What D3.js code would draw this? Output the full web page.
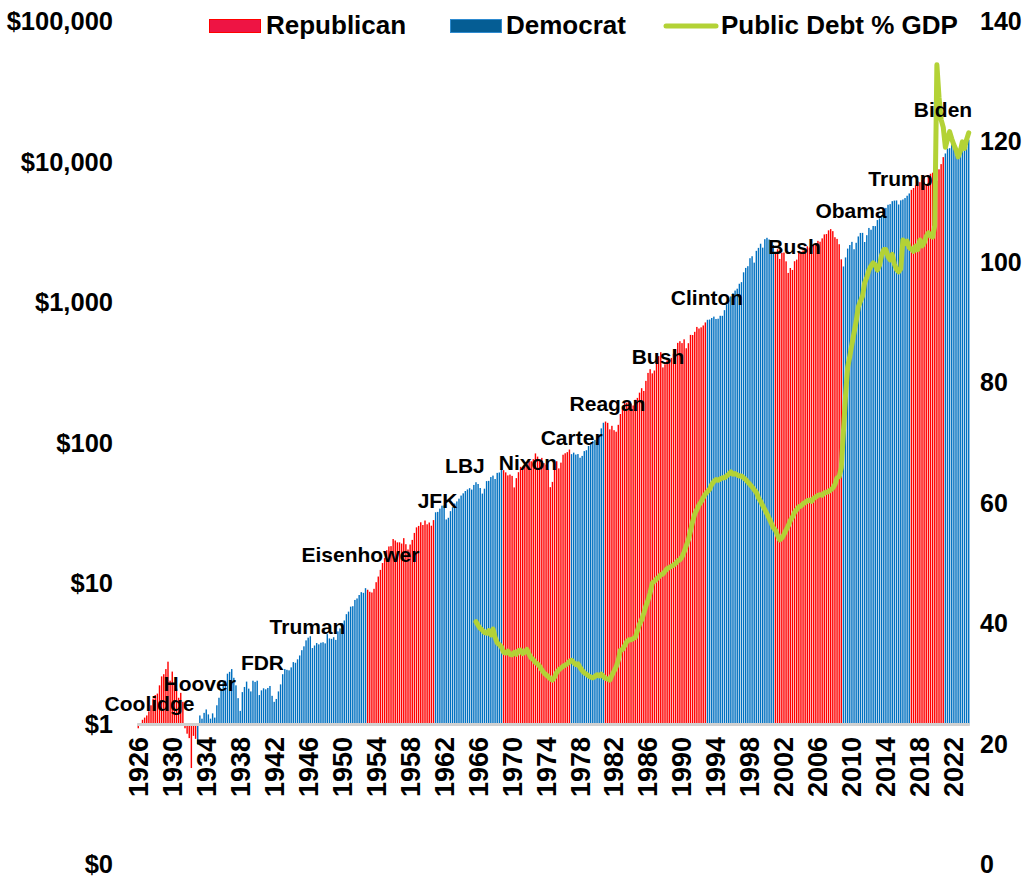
<!DOCTYPE html>
<html>
<head>
<meta charset="utf-8">
<script src="https://cdn.jsdelivr.net/npm/d3@7"></script>
<style>
  body { margin: 0; background: #fff; }
  svg { display: block; font-family: Arial, "Liberation Sans", sans-serif; font-weight: bold; }
</style>
</head>
<body>
<div id="chart"></div>
<script>
// growth of $1, quarterly, 1926Q1 .. 2023Q4
const firstYear = 1926;
const stockValues = [
  0.94, 1.02, 1.08, 1.12,
  1.16, 1.24, 1.37, 1.53,
  1.62, 1.66, 1.90, 2.20,
  2.28, 2.48, 2.80, 2.05,
  2.38, 1.95, 1.80, 1.55,
  1.68, 1.45, 0.94, 0.86,
  0.80, 0.49, 0.83, 0.79,
  0.72, 1.16, 1.10, 1.21,
  1.28, 1.18, 1.10, 1.20,
  1.12, 1.37, 1.55, 1.77,
  2.00, 2.05, 2.30, 2.37,
  2.48, 2.15, 1.90, 1.54,
  1.25, 1.70, 1.85, 2.02,
  1.80, 1.72, 2.05, 2.01,
  2.05, 1.62, 1.75, 1.81,
  1.78, 1.82, 1.88, 1.60,
  1.45, 1.52, 1.72, 1.93,
  2.28, 2.48, 2.45, 2.43,
  2.55, 2.78, 2.75, 2.91,
  3.10, 3.38, 3.60, 3.97,
  4.15, 4.25, 3.50, 3.65,
  3.80, 3.72, 3.82, 3.85,
  3.78, 4.40, 4.10, 4.07,
  4.18, 4.00, 4.60, 4.83,
  5.25, 5.50, 6.10, 6.36,
  6.90, 6.95, 7.70, 7.89,
  8.35, 8.75, 8.65, 9.34,
  9.10, 8.80, 8.70, 9.24,
  10.3, 11.3, 12.6, 14.1,
  15.3, 17.4, 18.5, 18.6,
  20.9, 20.4, 19.8, 19.8,
  19.4, 21.2, 19.2, 17.6,
  19.1, 20.6, 23.1, 25.3,
  25.9, 27.5, 26.3, 28.3,
  26.6, 27.4, 26.0, 28.5,
  32.4, 32.6, 34.4, 36.1,
  36.2, 28.8, 29.6, 33.0,
  35.2, 37.4, 38.7, 40.5,
  42.6, 44.2, 45.9, 47.1,
  48.1, 47.0, 50.7, 53.0,
  51.5, 48.2, 44.0, 47.7,
  54.0, 54.2, 57.7, 59.1,
  55.9, 61.8, 62.2, 65.6,
  64.6, 62.3, 59.3, 60.1,
  58.8, 48.7, 56.7, 62.5,
  68.2, 68.4, 68.5, 71.4,
  75.3, 74.7, 77.4, 85.0,
  80.7, 75.7, 79.0, 72.5,
  70.8, 65.1, 48.9, 53.3,
  65.8, 74.8, 66.5, 73.1,
  83.2, 85.2, 86.8, 90.6,
  84.0, 86.1, 83.4, 84.1,
  79.2, 81.6, 88.3, 89.6,
  96.0, 98.6, 104.4, 106.1,
  102.7, 115.8, 128.1, 140.5,
  143.3, 140.3, 126.1, 133.6,
  124.4, 121.3, 135.8, 162.2,
  177.2, 196.0, 195.7, 198.7,
  192.6, 186.5, 204.7, 211.2,
  230.1, 247.5, 236.6, 279.1,
  318.0, 338.0, 315.6, 330.7,
  398.0, 418.7, 446.7, 348.0,
  366.4, 390.4, 391.9, 406.5,
  435.1, 470.2, 520.4, 534.5,
  518.4, 551.5, 476.4, 517.5,
  593.0, 591.6, 623.5, 675.6,
  658.5, 671.0, 692.1, 727.4,
  759.2, 762.7, 782.3, 800.1,
  769.7, 772.9, 810.9, 810.5,
  889.4, 974.2, 1051.7, 1113.9,
  1173.7, 1226.2, 1264.2, 1370.9,
  1407.6, 1653.5, 1777.4, 1828.3,
  2083.3, 2152.2, 1938.1, 2350.9,
  2468.0, 2641.9, 2476.9, 2845.6,
  2910.8, 2833.5, 2805.9, 2586.5,
  2280.0, 2413.4, 2059.3, 2279.1,
  2285.5, 1979.3, 1637.2, 1775.3,
  1718.5, 1983.2, 2035.4, 2284.8,
  2323.5, 2363.6, 2319.5, 2533.4,
  2479.3, 2513.2, 2604.1, 2657.6,
  2769.3, 2729.0, 2883.4, 3077.4,
  3096.4, 3289.4, 3357.1, 3246.5,
  2939.8, 2859.9, 2620.4, 2045.4,
  1820.0, 2109.6, 2438.7, 2586.5,
  2723.4, 2413.3, 2681.8, 2976.1,
  3152.6, 3155.6, 2717.8, 3039.0,
  3421.7, 3322.3, 3533.5, 3525.5,
  3893.2, 4006.4, 4218.2, 4667.1,
  4751.3, 5000.0, 5056.6, 5306.2,
  5356.7, 5370.4, 5024.4, 5379.4,
  5451.5, 5583.1, 5799.1, 6022.9,
  6388.5, 6585.8, 6876.0, 7337.8,
  7240.0, 7489.6, 8067.4, 7015.7,
  7973.3, 8315.8, 8457.1, 9224.8,
  7416.3, 8941.3, 9739.3, 10921.9,
  11595.8, 12572.6, 12644.5, 14057.8,
  13410.5, 11253.6, 10704.1, 11511.6,
  12377.1, 13458.5, 13017.4, 14537.6
];

// public debt % GDP, quarterly from 1965Q4
const debtStartYear = 1965, debtStartQuarter = 4;
const debtValues = [
  40.4,
  39.8, 39.3, 39.0, 38.6,
  38.5, 38.9, 38.2, 39.2,
  37.8, 36.9, 36.6, 36.2,
  35.3, 35.2, 35.5, 35.0,
  34.9, 35.3, 35.0, 35.6,
  35.7, 35.1, 35.4, 35.8,
  35.0, 34.4, 34.1, 33.6,
  33.4, 33.0, 32.4, 31.9,
  31.6, 31.3, 30.9, 30.7,
  31.2, 32.0, 32.4, 32.7,
  33.0, 33.2, 33.4, 33.8,
  34.0, 33.6, 33.3, 33.4,
  32.8, 32.3, 31.9, 31.7,
  31.4, 31.2, 31.1, 31.3,
  31.6, 31.4, 31.7, 31.3,
  31.0, 30.9, 30.7, 31.5,
  32.2, 32.9, 34.0, 35.7,
  35.8, 36.4, 37.1, 37.4,
  37.4, 37.6, 37.8, 38.9,
  40.0, 40.7, 41.8, 43.0,
  44.0, 45.2, 46.8, 47.1,
  47.5, 47.8, 48.2, 48.3,
  48.8, 49.2, 49.4, 49.6,
  49.8, 50.1, 50.5, 50.7,
  51.2, 52.0, 53.0, 54.0,
  55.5, 57.0, 58.3, 59.0,
  59.8, 60.3, 61.0, 61.6,
  62.0, 62.4, 63.2, 63.7,
  64.0, 63.9, 64.1, 64.3,
  64.3, 64.6, 64.9, 65.3,
  64.9, 65.0, 64.8, 64.6,
  64.6, 64.3, 64.0, 63.6,
  63.2, 62.8, 62.3, 61.9,
  61.0, 60.4, 59.7, 59.0,
  58.3, 57.6, 56.8, 56.0,
  55.6, 54.7, 54.0, 54.3,
  54.9, 55.6, 56.3, 57.2,
  57.8, 58.6, 59.0, 59.5,
  59.6, 60.0, 60.2, 60.5,
  60.6, 60.4, 60.9, 61.1,
  61.4, 61.5, 61.4, 61.8,
  61.9, 62.0, 62.3, 62.6,
  63.2, 64.3, 64.5, 66.0,
  72.0, 78.0, 82.7, 84.5,
  86.5, 88.4, 90.3, 92.7,
  93.6, 94.5, 96.7, 97.6,
  98.8, 99.5, 100.0, 99.6,
  98.8, 99.6, 101.3, 102.2,
  102.2, 101.0, 100.5, 101.4,
  99.8, 98.9, 98.5, 99.0,
  103.8, 103.2, 103.6, 102.5,
  102.3, 101.9, 102.8, 102.2,
  103.8, 102.8, 103.3, 104.4,
  105.0, 104.5, 104.3, 106.2,
  132.9, 127.5, 123.8, 122.5,
  119.2, 120.5, 121.8, 120.6,
  119.6, 118.8, 117.6, 118.5,
  120.1, 119.0, 120.5, 121.6
];

// presidents: first year (decimal, by quarter) of each term
const termNames   = ["Coolidge", "Hoover", "FDR", "Truman", "Eisenhower", "JFK", "LBJ", "Nixon",
                     "Carter", "Reagan", "Bush", "Clinton", "Bush", "Obama", "Trump", "Biden"];
const termParties = ["R", "R", "D", "D", "R", "D", "D", "R", "D", "R", "R", "D", "R", "D", "R", "D"];
const termStarts  = [1926, 1929, 1933, 1945.25, 1953, 1961, 1963.75, 1969,
                     1977, 1981, 1989, 1993, 2001, 2009, 2017, 2021];
// where each name sits (year, $ value)
const labelYears  = [1927.32, 1933.23, 1940.62, 1945.92, 1952.15, 1961.22, 1964.45, 1971.87,
                     1977.01, 1981.23, 1987.17, 1992.94, 2003.24, 2009.89, 2015.71, 2020.72];
const labelValues = [1.24, 1.72, 2.44, 4.41, 14.3, 34.8, 61.7, 64.8,
                     97.6, 170, 368, 968, 2233, 4027, 6806, 21100];

const leftTicks = [0.1, 1, 10, 100, 1000, 10000, 100000];
const leftTickLabels = ["$0", "$1", "$10", "$100", "$1,000", "$10,000", "$100,000"];
const rightTicks = [0, 20, 40, 60, 80, 100, 120, 140];
const yearTicks = d3.range(1926, 2023, 4);

const partyColor = { R: "#ff0000", D: "#0070c0" };
const lineColor = "#b3d236";

const width = 1036, height = 878;
const svg = d3.select("#chart").append("svg")
  .attr("width", width)
  .attr("height", height);

const xScale = d3.scaleBand()
  .domain(d3.range(stockValues.length))
  .range([137.2, 969.8])
  .paddingInner(0.33)
  .paddingOuter(0.165);
const yScale = d3.scaleLog().domain([0.1, 100000]).range([865, 22]);
const yRight = d3.scaleLinear().domain([0, 140]).range([865, 22]);

const quarterIndex = (year) => Math.round((year - firstYear) * 4);
const xCenter = (i) => xScale(i) + xScale.bandwidth() / 2;
const xOfYear = (yr) => xScale.range()[0] + ((yr - firstYear) * 4 + 0.5) * xScale.step();

function partyOf(i) {
  let p = termParties[0];
  termStarts.forEach((s, k) => { if (quarterIndex(s) <= i) p = termParties[k]; });
  return p;
}

const bars = stockValues.map((v, i) => ({ i, v, party: partyOf(i) }));

// bars from the $1 line
svg.append("g")
  .selectAll("rect")
  .data(bars)
  .enter()
  .append("rect")
  .attr("x", (d) => xScale(d.i))
  .attr("width", xScale.bandwidth())
  .attr("y", (d) => Math.min(yScale(d.v), yScale(1)))
  .attr("height", (d) => Math.abs(yScale(1) - yScale(d.v)))
  .attr("fill", (d) => partyColor[d.party]);

svg.append("line")
  .attr("x1", xScale.range()[0])
  .attr("x2", xScale.range()[1])
  .attr("y1", yScale(1))
  .attr("y2", yScale(1))
  .attr("stroke", "#d0d0d0")
  .attr("stroke-width", 3);

// debt line
const debtStart = (debtStartYear - firstYear) * 4 + debtStartQuarter - 1;
const debtLine = d3.line()
  .x((d, k) => xCenter(debtStart + k))
  .y((d) => yRight(d));
svg.append("path")
  .datum(debtValues)
  .attr("d", debtLine)
  .attr("fill", "none")
  .attr("stroke", lineColor)
  .attr("stroke-width", 5)
  .attr("stroke-linejoin", "round")
  .attr("stroke-linecap", "round");

// left axis
svg.append("g")
  .selectAll("text")
  .data(leftTicks)
  .enter()
  .append("text")
  .attr("x", 113)
  .attr("y", (d) => yScale(d) + 8)
  .attr("text-anchor", "end")
  .style("font-size", "25.5px")
  .text((d, i) => leftTickLabels[i]);

// right axis
svg.append("g")
  .selectAll("text")
  .data(rightTicks)
  .enter()
  .append("text")
  .attr("x", 980)
  .attr("y", (d) => yRight(d) + 8)
  .style("font-size", "25px")
  .text((d) => d);

// year labels
svg.append("g")
  .selectAll("text")
  .data(yearTicks)
  .enter()
  .append("text")
  .attr("transform", (d) => "translate(" + xCenter(quarterIndex(d)) + ",737) rotate(-90)")
  .attr("text-anchor", "end")
  .attr("dy", "0.35em")
  .style("font-size", "27px")
  .text((d) => d);

// president names
svg.append("g")
  .selectAll("text")
  .data(termNames)
  .enter()
  .append("text")
  .attr("x", (d, i) => xOfYear(labelYears[i]))
  .attr("y", (d, i) => yScale(labelValues[i]))
  .attr("text-anchor", "middle")
  .style("font-size", "21px")
  .text((d) => d);

// legend
const legend = svg.append("g").style("font-size", "26px");
legend.append("rect")
  .attr("x", 209.5).attr("y", 19.5).attr("width", 51).attr("height", 13)
  .attr("fill", "#ee1444").attr("stroke", "#ff0000");
legend.append("text").attr("x", 266).attr("y", 34).text("Republican");
legend.append("rect")
  .attr("x", 450.5).attr("y", 19.5).attr("width", 51).attr("height", 13)
  .attr("fill", "#055d94").attr("stroke", "#2e8bd0");
legend.append("text").attr("x", 506).attr("y", 34).text("Democrat");
legend.append("line")
  .attr("x1", 666).attr("x2", 716).attr("y1", 26).attr("y2", 26)
  .attr("stroke", lineColor).attr("stroke-width", 5).attr("stroke-linecap", "round");
legend.append("text").attr("x", 721).attr("y", 34).text("Public Debt % GDP");
</script>
</body>
</html>
